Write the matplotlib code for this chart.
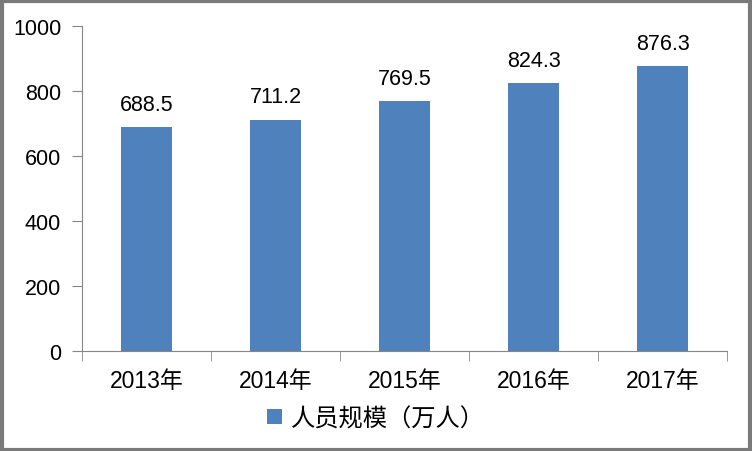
import matplotlib.pyplot as plt
from matplotlib.patches import Rectangle
import numpy as np

plt.rcParams['font.family'] = ['Liberation Sans', 'Noto Sans CJK SC']

years = ['2013年', '2014年', '2015年', '2016年', '2017年']
staff = [688.5, 711.2, 769.5, 824.3, 876.3]
series_name = '人员规模（万人）'

fig = plt.figure(figsize=(7.52, 4.52), dpi=100)
ax = fig.add_axes([0.109, 0.221, 0.858, 0.719])

x = np.arange(len(years))
bars = ax.bar(x, staff, width=0.4, color='#4F81BD', label=series_name)
for b, v in zip(bars, staff):
    ax.annotate(f'{v:.1f}', (b.get_x() + b.get_width() / 2, v),
                xytext=(0, 9), textcoords='offset points',
                ha='center', va='bottom', fontsize=15.5)

ax.set_xlim(-0.5, len(years) - 0.5)
ax.set_ylim(0, 1000)
ax.set_yticks(range(0, 1001, 200))
ax.set_xticks(x)
ax.set_xticklabels(years)
ax.set_xticks(np.arange(-0.5, len(years)), minor=True)
ax.tick_params(axis='x', which='major', length=0, pad=13, labelsize=16.5)
ax.tick_params(axis='x', which='minor', length=7, color='#868686')
ax.tick_params(axis='y', length=7, color='#868686', pad=8, labelsize=15.5)

for s in ['top', 'right']:
    ax.spines[s].set_visible(False)
for s in ['left', 'bottom']:
    ax.spines[s].set_color('#868686')

fig.legend(handles=[bars], labels=[series_name], loc='center',
           bbox_to_anchor=(0.5, 0.072), frameon=False, fontsize=17.5,
           handlelength=0.6, handleheight=0.6, handletextpad=0.35)

fig.patches.append(Rectangle((0.002, 0.003), 0.995, 0.992, transform=fig.transFigure,
                             fill=False, edgecolor='#7a7a7a', linewidth=3))

fig.savefig('out.png', dpi=100)
